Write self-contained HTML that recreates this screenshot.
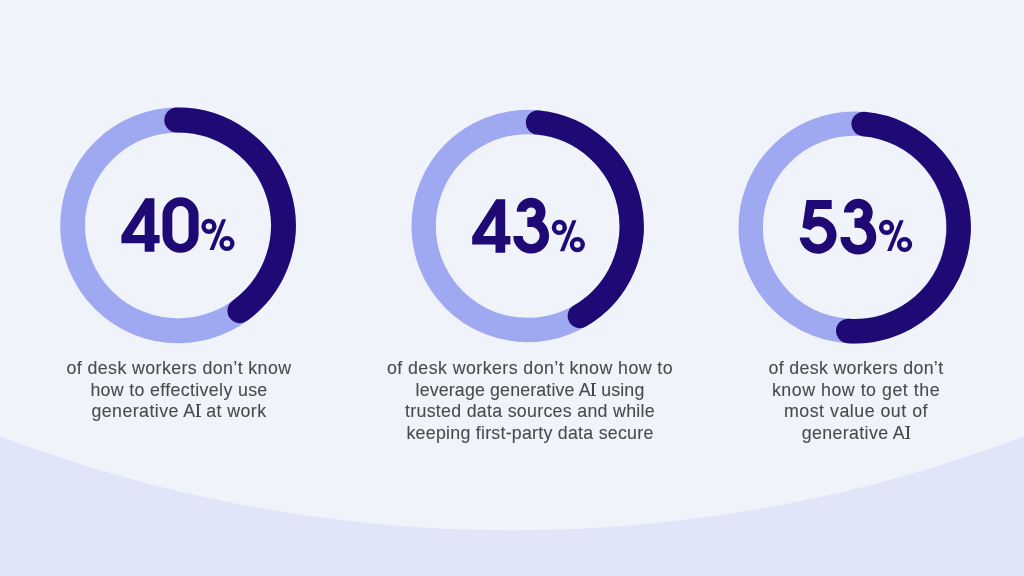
<!DOCTYPE html>
<html><head><meta charset="utf-8"><style>
html,body{margin:0;padding:0;}
body{width:1024px;height:576px;overflow:hidden;position:relative;background:#F1F3FB;}
svg{position:absolute;left:0;top:0;}
.t{position:absolute;width:400px;text-align:center;font-family:"Liberation Sans",sans-serif;font-size:17.8px;line-height:20px;color:#4a4a4a;white-space:nowrap;will-change:transform;-webkit-text-stroke:0.1px #4a4a4a;}
.I{display:inline-block;position:relative;width:4.8px;height:12.7px;box-sizing:border-box;border-top:1.5px solid #4a4a4a;border-bottom:1.5px solid #4a4a4a;margin:0 0.3px 0 0.2px;vertical-align:baseline;}
.I::after{content:"";position:absolute;left:1.45px;width:1.9px;top:0;bottom:0;background:#4a4a4a;}
</style></head><body>
<svg width="1024" height="576" viewBox="0 0 1024 576">
<rect width="1024" height="576" fill="#E0E5F8"/>
<circle cx="512.08" cy="-913.65" r="1443.82" fill="#F1F3FB"/>
<circle cx="178.0" cy="225.4" r="105.4" fill="none" stroke="#9EA9F1" stroke-width="24.8"/><path fill="none" stroke="#1F0974" stroke-width="24.8" stroke-linecap="round" d="M176.71,120.01 A105.4,105.4 0 0 1 239.80,310.78"/>
<circle cx="527.65" cy="226.0" r="104.0" fill="none" stroke="#9EA9F1" stroke-width="24.3"/><path fill="none" stroke="#1F0974" stroke-width="24.3" stroke-linecap="round" d="M537.98,122.51 A104.0,104.0 0 0 1 579.81,315.98"/>
<circle cx="854.5" cy="227.4" r="103.8" fill="none" stroke="#9EA9F1" stroke-width="24.4"/><path fill="none" stroke="#1F0974" stroke-width="24.4" stroke-linecap="round" d="M863.55,123.99 A103.8,103.8 0 0 1 848.16,331.01"/>
<g fill="#1F0974">
<path fill-rule="evenodd" d="M121.40,235.50 L145.40,198.20 L154.40,198.20 L154.40,235.00 L159.60,235.00 L159.60,243.30 L154.40,243.30 L154.40,251.70 L144.70,251.70 L144.70,243.30 L121.40,243.30 Z M132.20,235.00 L144.70,214.90 L144.70,235.00 Z"/>
<path fill-rule="evenodd" d="M162.50,215.25 A18.05,18.05 0 0 1 198.60,215.25 L198.60,234.75 A18.05,18.05 0 0 1 162.50,234.75 Z M172.30,214.25 A8.15,8.15 0 0 1 188.60,214.25 L188.60,235.75 A8.15,8.15 0 0 1 172.30,235.75 Z"/>
<path fill-rule="evenodd" d="M201.30,226.35 a7.65,7.65 0 1 0 15.30,0 a7.65,7.65 0 1 0 -15.30,0 Z M205.75,226.35 a3.20,3.20 0 1 0 6.40,0 a3.20,3.20 0 1 0 -6.40,0 Z M219.35,243.50 a7.60,7.60 0 1 0 15.20,0 a7.60,7.60 0 1 0 -15.20,0 Z M223.70,243.50 a3.25,3.25 0 1 0 6.50,0 a3.25,3.25 0 1 0 -6.50,0 Z"/><path d="M222.00,219.20 L226.10,219.20 L213.80,250.10 L209.50,250.10 Z"/>
<path fill-rule="evenodd" d="M472.20,236.60 L496.20,199.30 L505.20,199.30 L505.20,236.10 L510.40,236.10 L510.40,244.40 L505.20,244.40 L505.20,252.80 L495.50,252.80 L495.50,244.40 L472.20,244.40 Z M483.00,236.10 L495.50,216.00 L495.50,236.10 Z"/>
<path fill="none" stroke="#1F0974" stroke-width="9.6" d="M521.50,211.70 A9.6,9.1 0 0 1 540.70,211.70 A9.55,10.4 0 0 1 531.15,222.10 L527.30,222.10"/><path fill="none" stroke="#1F0974" stroke-width="9.4" d="M529.80,222.10 L531.15,222.10 A13.2,14.0 0 0 1 544.35,236.10 A13.2,12.8 0 0 1 517.95,236.10 L517.95,236.40"/>
<path fill-rule="evenodd" d="M551.70,227.45 a7.65,7.65 0 1 0 15.30,0 a7.65,7.65 0 1 0 -15.30,0 Z M556.15,227.45 a3.20,3.20 0 1 0 6.40,0 a3.20,3.20 0 1 0 -6.40,0 Z M569.75,244.60 a7.60,7.60 0 1 0 15.20,0 a7.60,7.60 0 1 0 -15.20,0 Z M574.10,244.60 a3.25,3.25 0 1 0 6.50,0 a3.25,3.25 0 1 0 -6.50,0 Z"/><path d="M572.40,220.30 L576.50,220.30 L564.20,251.20 L559.90,251.20 Z"/>
<path d="M806.50,200.10 L831.70,200.10 L831.70,209.00 L814.50,209.00 L812.62,217.50 A18.5,18.5 0 1 1 799.63,237.40 L809.27,237.40 A9.0,9.0 0 1 0 810.56,230.14 L802.40,227.50 Z"/>
<path fill="none" stroke="#1F0974" stroke-width="9.6" d="M848.70,212.60 A9.6,9.1 0 0 1 867.90,212.60 A9.55,10.4 0 0 1 858.35,223.00 L854.50,223.00"/><path fill="none" stroke="#1F0974" stroke-width="9.4" d="M857.00,223.00 L858.35,223.00 A13.2,14.0 0 0 1 871.55,237.00 A13.2,12.8 0 0 1 845.15,237.00 L845.15,237.30"/>
<path fill-rule="evenodd" d="M878.90,227.35 a7.65,7.65 0 1 0 15.30,0 a7.65,7.65 0 1 0 -15.30,0 Z M883.35,227.35 a3.20,3.20 0 1 0 6.40,0 a3.20,3.20 0 1 0 -6.40,0 Z M896.95,244.50 a7.60,7.60 0 1 0 15.20,0 a7.60,7.60 0 1 0 -15.20,0 Z M901.30,244.50 a3.25,3.25 0 1 0 6.50,0 a3.25,3.25 0 1 0 -6.50,0 Z"/><path d="M899.60,220.20 L903.70,220.20 L891.40,251.10 L887.10,251.10 Z"/>
</g>
</svg>
<div class="t" style="left:-21.30px;top:358.00px;letter-spacing:0.401px">of desk workers don’t know</div>
<div class="t" style="left:-21.33px;top:379.55px;letter-spacing:0.343px">how to effectively use</div>
<div class="t" style="left:-21.28px;top:401.10px;letter-spacing:0.437px">generative A<span class="I"></span> at work</div>
<div class="t" style="left:330.42px;top:358.00px;letter-spacing:0.434px">of desk workers don’t know how to</div>
<div class="t" style="left:330.28px;top:379.55px;letter-spacing:0.155px">leverage generative A<span class="I"></span> using</div>
<div class="t" style="left:330.35px;top:401.10px;letter-spacing:0.294px">trusted data sources and while</div>
<div class="t" style="left:330.33px;top:422.65px;letter-spacing:0.254px">keeping first-party data secure</div>
<div class="t" style="left:655.76px;top:358.00px;letter-spacing:0.324px">of desk workers don’t</div>
<div class="t" style="left:655.87px;top:379.55px;letter-spacing:0.53px">know how to get the</div>
<div class="t" style="left:655.85px;top:401.10px;letter-spacing:0.505px">most value out of</div>
<div class="t" style="left:655.78px;top:422.65px;letter-spacing:0.367px">generative A<span class="I"></span></div>
</body></html>
